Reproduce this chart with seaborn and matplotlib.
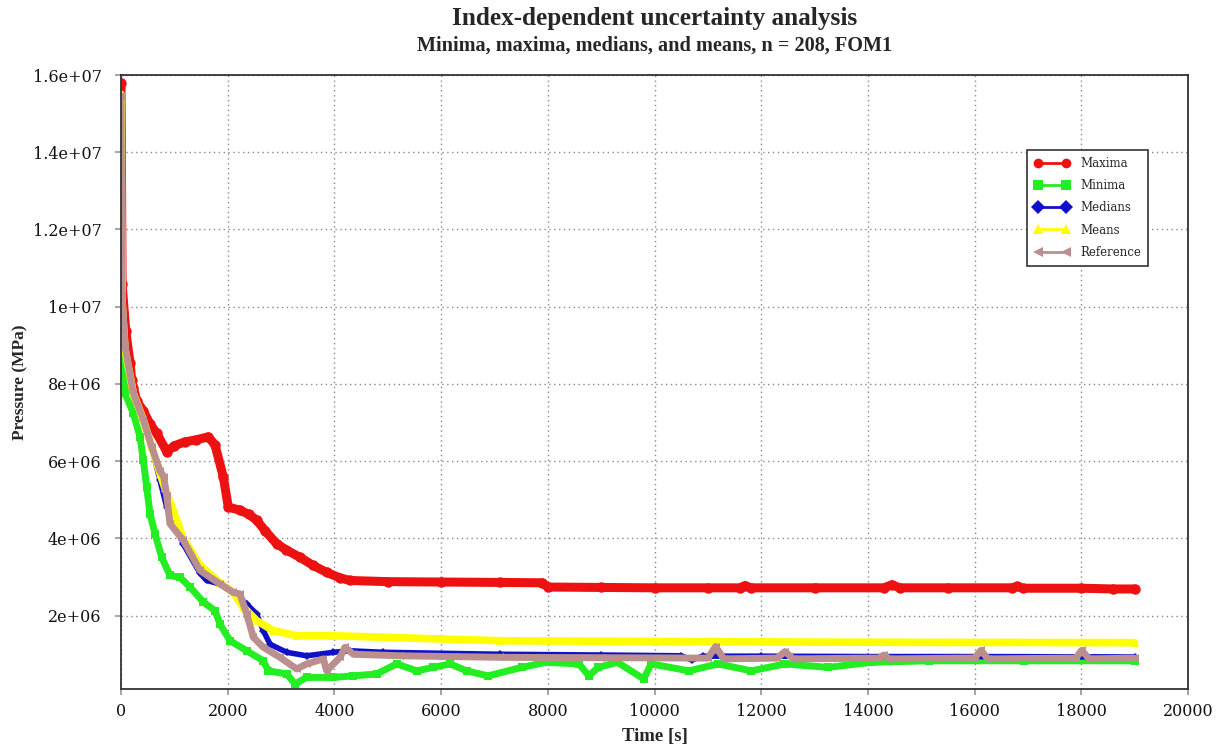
import numpy as np
import pandas as pd
import matplotlib
matplotlib.use("Agg")
import matplotlib.pyplot as plt
import seaborn as sns
from matplotlib.ticker import FixedLocator, FixedFormatter

# ---------------- data ----------------
max_t = [0, 20, 90, 170, 200, 231, 300, 418, 550, 669, 857, 1000, 1200, 1400, 1637, 1762, 1918,
         2011, 2230, 2400, 2543, 2700, 2918, 3100, 3355, 3600, 3855, 4100, 4292, 5000, 6000, 7100,
         7900, 8000, 9000, 10000, 11000, 11600, 11700, 11800, 13000, 14300, 14450, 14600, 15500,
         16700, 16800, 16900, 18000, 18600, 19000]
max_v = [15.8, 10.6, 9.36, 8.54, 8.1, 7.9, 7.55, 7.3, 6.95, 6.72, 6.25, 6.4, 6.5, 6.55, 6.63, 6.42, 5.59,
         4.81, 4.73, 4.62, 4.47, 4.2, 3.86, 3.7, 3.51, 3.3, 3.12, 2.98, 2.91, 2.88, 2.87, 2.86,
         2.85, 2.74, 2.73, 2.72, 2.72, 2.72, 2.78, 2.72, 2.72, 2.72, 2.8, 2.72, 2.72,
         2.72, 2.76, 2.71, 2.71, 2.69, 2.69]

min_t = [0, 20, 44, 75, 231, 356, 418, 481, 544, 637, 763, 918, 1106, 1293, 1543, 1762, 1856, 2043,
         2356, 2668, 2761, 3106, 3262, 3481, 3980, 4355, 4793, 5168, 5543, 5855, 6167, 6480, 6880,
         7513, 7961, 8585, 8769, 8947, 9306, 9800, 9935, 10647, 11190, 11817, 12446, 13252, 14058,
         15136, 16926, 19000]
min_v = [15.2, 9.6, 8.4, 7.76, 7.24, 6.63, 6.03, 5.33, 4.64, 4.12, 3.51, 3.04, 2.99, 2.74, 2.35, 2.13, 1.78, 1.35,
         1.09, 0.83, 0.57, 0.49, 0.23, 0.40, 0.40, 0.44, 0.49, 0.75, 0.57, 0.66, 0.75, 0.57, 0.44,
         0.66, 0.79, 0.75, 0.44, 0.66, 0.79, 0.36, 0.75, 0.57, 0.75, 0.57, 0.75, 0.66, 0.79,
         0.83, 0.83, 0.83]

med_t = [0, 20, 75, 231, 418, 575, 731, 857, 1168, 1481, 1606, 1856, 2106, 2356, 2543, 2668, 2793,
         3106, 3481, 3980, 4292, 4918, 7104, 9000, 10500, 10700, 10900, 12000, 14000, 16000, 19000]
med_v = [15.5, 10.3, 8.97, 7.76, 7.07, 6.37, 5.5, 4.81, 3.85, 3.1, 2.91, 2.82, 2.6, 2.3, 2.04, 1.61, 1.26,
         1.05, 0.96, 1.05, 1.09, 1.05, 1.0, 0.98, 0.96, 0.85, 0.95, 0.95, 0.94, 0.94, 0.93]

mean_t = [0, 20, 75, 231, 418, 575, 731, 825, 1168, 1481, 1856, 2106, 2293, 2543, 2855, 3293, 3980,
          4918, 7104, 10000, 14000, 19000]
mean_v = [15.5, 10.1, 8.9, 7.76, 7.07, 6.37, 5.68, 5.3, 4.0, 3.3, 2.85, 2.6, 2.22, 1.87, 1.61, 1.48, 1.48,
          1.44, 1.35, 1.33, 1.31, 1.3]

ref_t = [0, 20, 75, 231, 418, 575, 731, 800, 857, 918, 1168, 1481, 1856, 2106, 2230, 2356, 2480, 2668,
         2980, 3293, 3481, 3793, 3855, 4105, 4199, 4355, 5230, 7104, 9000, 11000, 11145, 11300,
         12300, 12446, 12600, 14200, 14300, 14400, 16000, 16120, 16250, 17900, 18005, 18150, 19000]
ref_v = [15.46, 10.3, 8.97, 7.76, 7.07, 6.37, 5.75, 5.6, 5.1, 4.38, 3.95, 3.17, 2.82, 2.6, 2.56, 2.04, 1.44, 1.18,
         0.92, 0.62, 0.75, 0.88, 0.57, 0.92, 1.18, 1.0, 0.96, 0.92, 0.91, 0.9, 1.2, 0.88,
         0.9, 1.07, 0.88, 0.9, 0.98, 0.88, 0.9, 1.1, 0.88, 0.9, 1.1, 0.88, 0.9]

series_names = ["Maxima", "Minima", "Medians", "Means", "Reference"]
x_ticks = [0, 2000, 4000, 6000, 8000, 10000, 12000, 14000, 16000, 18000, 20000]
y_ticks = [2e6, 4e6, 6e6, 8e6, 1e7, 1.2e7, 1.4e7, 1.6e7]
y_tick_labels = ["2e+06", "4e+06", "6e+06", "8e+06", "1e+07", "1.2e+07", "1.4e+07", "1.6e+07"]

title = "Index-dependent uncertainty analysis"
subtitle = "Minima, maxima, medians, and means, n = 208, FOM1"

# ---------------- style ----------------
sns.set_theme(style="ticks")
plt.rcParams["font.family"] = ["DejaVu Serif", "DejaVu Sans"]

fig = plt.figure(figsize=(12.25, 7.54), dpi=100)
ax = fig.add_axes([121 / 1225, 1 - 689 / 754, (1188 - 121) / 1225, (689 - 75) / 754])

styles = [
    dict(t=max_t, v=max_v, color="#ee1111", marker="o", lw=6.5, ms=7.5),
    dict(t=min_t, v=min_v, color="#22ee22", marker="s", lw=5.0, ms=5.5),
    dict(t=med_t, v=med_v, color="#1010c8", marker="D", lw=4.0, ms=4.5),
    dict(t=mean_t, v=mean_v, color="#ffff00", marker="^", lw=5.5, ms=6.0),
    dict(t=ref_t, v=ref_v, color="#bc8f8f", marker="<", lw=5.0, ms=6.0),
]

for name, st in zip(series_names, styles):
    df = pd.DataFrame({"Time": st["t"], "Pressure": np.array(st["v"]) * 1e6})
    sns.lineplot(data=df, x="Time", y="Pressure", ax=ax, color=st["color"], marker=st["marker"],
                 linewidth=st["lw"], markersize=st["ms"], markeredgewidth=0, estimator=None,
                 sort=True, label=name, solid_joinstyle="round", solid_capstyle="round")

ax.set_xlim(0, 20000)
ax.set_ylim(1e5, 1.6e7)
ax.xaxis.set_major_locator(FixedLocator(x_ticks))
ax.set_xticklabels([str(v) for v in x_ticks])
ax.yaxis.set_major_locator(FixedLocator(y_ticks))
ax.yaxis.set_major_formatter(FixedFormatter(y_tick_labels))

ax.grid(True, linestyle=(0, (1, 2.5)), color="#888888", linewidth=1.0)
ax.tick_params(axis="both", labelsize=11.5, length=4, color="#999999", colors="#111111")
ax.tick_params(axis="y", pad=10)
ax.tick_params(axis="x", pad=6)
for sp in ax.spines.values():
    sp.set_color("#333333")
    sp.set_linewidth(1.3)
    sp.set_visible(True)

ax.set_xlabel("Time [s]", fontsize=13.5, fontweight="bold", family="Liberation Serif", labelpad=6)
ax.set_ylabel("Pressure (MPa)", fontsize=12.5, fontweight="bold", family="Liberation Serif", labelpad=3)

fig.text(0.5343, 1 - 18 / 754, title, ha="center", va="center", fontsize=18.2, fontweight="bold",
         family="Liberation Serif")
fig.text(0.5343, 1 - 46 / 754, subtitle, ha="center", va="center", fontsize=14.6, fontweight="bold",
         family="Liberation Serif")

handles, labels = ax.get_legend_handles_labels()
leg = ax.legend(handles, labels, loc="upper right", bbox_to_anchor=(0.9625, 0.878), borderaxespad=0,
                fontsize=8.5, frameon=True, fancybox=False, edgecolor="#333333", framealpha=1,
                numpoints=2, handlelength=3.0, borderpad=0.6, labelspacing=0.78, handletextpad=0.9)
for lh in leg.get_lines():
    lh.set_linewidth(2.0)
    lh.set_markersize(7)
leg.get_frame().set_linewidth(1.2)

fig.savefig("out.png", dpi=100, facecolor="white")
